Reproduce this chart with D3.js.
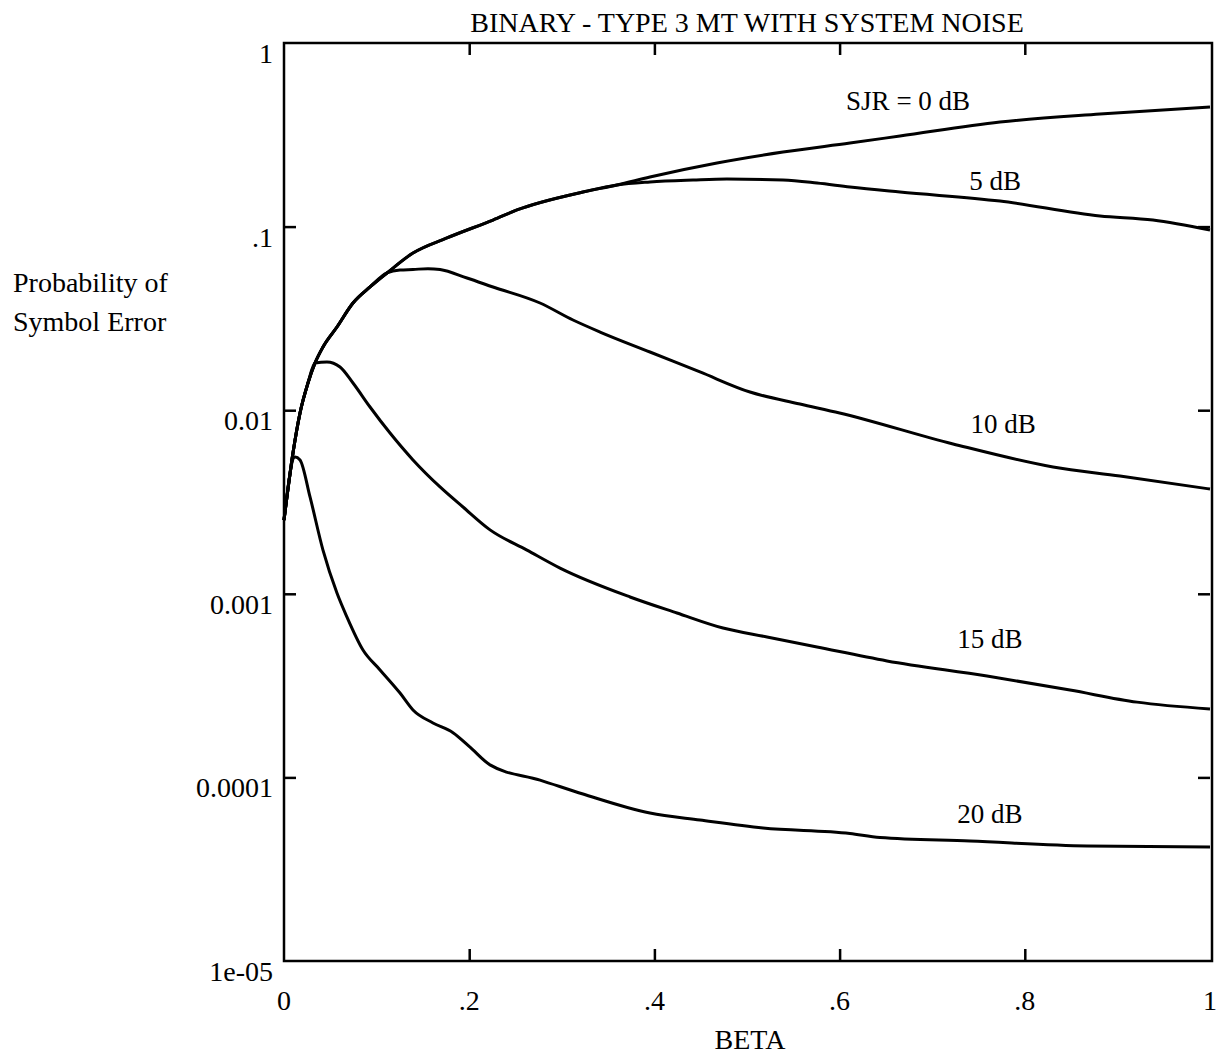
<!DOCTYPE html>
<html>
<head>
<meta charset="utf-8">
<script src="https://cdn.jsdelivr.net/npm/d3@7"></script>
<style>
  body { margin: 0; background: #fff; }
  text { font-family: "Liberation Serif", "DejaVu Serif", serif; fill: #000; }
</style>
</head>
<body>
<svg id="chart" width="1218" height="1058"></svg>
<script>
// values
const betaTicks = [0, 0.2, 0.4, 0.6, 0.8, 1];
const betaTickLabels = ['0', '.2', '.4', '.6', '.8', '1'];
const peTicks = [1, 0.1, 0.01, 0.001, 0.0001, 0.00001];
const peTickLabels = ['1', '.1', '0.01', '0.001', '0.0001', '1e-05'];

const sjrNames = ['SJR = 0 dB', '5 dB', '10 dB', '15 dB', '20 dB'];

const beta0 = [0, 0.0097, 0.0173, 0.0259, 0.0335, 0.0421, 0.0572, 0.0745, 0.0929, 0.1112, 0.1393, 0.176, 0.2257, 0.2516, 0.3229, 0.3596, 0.3952, 0.4676, 0.5389, 0.6112, 0.6652, 0.7732, 0.8812, 1];
const pe0 = [0.00252, 0.00585, 0.00966, 0.01406, 0.01807, 0.02209, 0.02838, 0.03836, 0.0469, 0.05589, 0.07178, 0.0867, 0.1086, 0.1232, 0.1543, 0.1685, 0.1863, 0.222, 0.2548, 0.2853, 0.3114, 0.3713, 0.4105, 0.4481];

const beta5 = [0, 0.0097, 0.0173, 0.0259, 0.0335, 0.0421, 0.0572, 0.0745, 0.0929, 0.1112, 0.1393, 0.176, 0.2257, 0.2516, 0.3229, 0.3596, 0.3952, 0.4417, 0.4784, 0.5389, 0.5756, 0.6112, 0.6652, 0.7732, 0.8812, 0.9384, 1];
const pe5 = [0.00252, 0.00585, 0.00966, 0.01406, 0.01807, 0.02209, 0.02838, 0.03836, 0.0469, 0.05589, 0.07178, 0.0867, 0.1086, 0.1232, 0.1543, 0.1685, 0.175, 0.1794, 0.1817, 0.1794, 0.1727, 0.1643, 0.1543, 0.1378, 0.1142, 0.1086, 0.0958];

const beta10 = [0, 0.0097, 0.0173, 0.0259, 0.0335, 0.0421, 0.0572, 0.0745, 0.0929, 0.1112, 0.1253, 0.1393, 0.1555, 0.1685, 0.1976, 0.2257, 0.2765, 0.3121, 0.3413, 0.3952, 0.4492, 0.5032, 0.5572, 0.6, 0.7225, 0.8305, 0.9028, 1];
const pe10 = [0.00252, 0.00585, 0.00966, 0.01406, 0.01807, 0.02209, 0.02838, 0.03836, 0.0469, 0.05589, 0.05802, 0.0584, 0.059, 0.0584, 0.05248, 0.0469, 0.03836, 0.03099, 0.02666, 0.02075, 0.01615, 0.01256, 0.01081, 0.00966, 0.00655, 0.00491, 0.00438, 0.00372];

const beta15 = [0, 0.0097, 0.0173, 0.0259, 0.0335, 0.0464, 0.0605, 0.0745, 0.0929, 0.1145, 0.1393, 0.1685, 0.1933, 0.2225, 0.2624, 0.2981, 0.3737, 0.4244, 0.4741, 0.5216, 0.5756, 0.6512, 0.7592, 0.8488, 0.9212, 1];
const pe15 = [0.00252, 0.00585, 0.00966, 0.01406, 0.01807, 0.0183, 0.01719, 0.01406, 0.01041, 0.00751, 0.00536, 0.00382, 0.00297, 0.00223, 0.00173, 0.00138, 0.000961, 0.000786, 0.000651, 0.000582, 0.000513, 0.000431, 0.000357, 0.000299, 0.000257, 0.000236];

const beta20 = [0, 0.0119, 0.0173, 0.0281, 0.0421, 0.0572, 0.068, 0.0853, 0.1037, 0.1253, 0.1393, 0.1609, 0.1825, 0.2009, 0.2225, 0.2765, 0.3229, 0.3952, 0.4492, 0.5173, 0.6112, 0.6436, 0.7408, 0.8672, 1];
const pe20 = [0.00252, 0.00556, 0.00536, 0.00337, 0.00173, 0.00101, 0.000747, 0.000494, 0.000385, 0.000288, 0.000233, 0.000198, 0.000175, 0.000146, 0.000117, 9.67e-5, 8.12e-5, 6.4e-5, 5.86e-5, 5.3e-5, 4.95e-5, 4.7e-5, 4.5e-5, 4.23e-5, 4.18e-5];

// where each curve name sits, in data units (beta, Pe)
const labelBeta = [0.674, 0.768, 0.7765, 0.7624, 0.7624];
const labelPe = [0.4315, 0.1582, 0.00751, 0.000507, 5.64e-5];

const series = [[beta0, pe0], [beta5, pe5], [beta10, pe10], [beta15, pe15], [beta20, pe20]];

const plotLeft = 284, plotRight = 1210, plotTop = 43, plotBottom = 961;

const x = d3.scaleLinear().domain([0, 1]).range([plotLeft, plotRight]);
const y = d3.scaleLog().domain([1e-5, 1]).range([plotBottom, plotTop]);

const svg = d3.select('#chart');

svg.append('rect')
    .attr('width', 1218).attr('height', 1058)
    .attr('fill', '#fff');

// inward ticks on all four sides
const inner = [0.2, 0.4, 0.6, 0.8];
const innerY = [0.1, 0.01, 0.001, 0.0001];
const tickLen = 12;

svg.append('g')
    .attr('transform', `translate(0,${plotBottom})`)
    .call(d3.axisBottom(x).tickValues(inner).tickSize(-tickLen).tickFormat(''));
svg.append('g')
    .attr('transform', `translate(0,${plotTop})`)
    .call(d3.axisTop(x).tickValues(inner).tickSize(-tickLen).tickFormat(''));
svg.append('g')
    .attr('transform', `translate(${plotLeft},0)`)
    .call(d3.axisLeft(y).tickValues(innerY).tickSize(-tickLen).tickFormat(''));
svg.append('g')
    .attr('transform', `translate(${plotRight},0)`)
    .call(d3.axisRight(y).tickValues(innerY).tickSize(-tickLen).tickFormat(''));

svg.selectAll('.domain').remove();
svg.selectAll('.tick line').attr('stroke', '#000').attr('stroke-width', 2.5);

// frame
svg.append('rect')
    .attr('x', plotLeft).attr('y', plotTop)
    .attr('width', plotRight - plotLeft + 2).attr('height', plotBottom - plotTop)
    .attr('fill', 'none')
    .attr('stroke', '#000')
    .attr('stroke-width', 2.5);

// tick labels
svg.append('g').selectAll('text')
    .data(betaTicks)
    .join('text')
        .attr('x', d => x(d))
        .attr('y', 1010)
        .attr('text-anchor', 'middle')
        .style('font-size', '28px')
        .text((d, i) => betaTickLabels[i]);

svg.append('g').selectAll('text')
    .data(peTicks)
    .join('text')
        .attr('x', 273)
        .attr('y', d => y(d) + 20)
        .attr('text-anchor', 'end')
        .style('font-size', '28px')
        .text((d, i) => peTickLabels[i]);

// curves
const line = d3.line()
    .x(d => x(d[0]))
    .y(d => y(d[1]))
    .curve(d3.curveMonotoneX);

svg.append('g').selectAll('path')
    .data(series.map(s => s[0].map((b, i) => [b, s[1][i]])))
    .join('path')
        .attr('d', line)
        .attr('fill', 'none')
        .attr('stroke', '#000')
        .attr('stroke-width', 3)
        .attr('stroke-linejoin', 'round');

svg.append('g').selectAll('text')
    .data(sjrNames)
    .join('text')
        .attr('x', (d, i) => x(labelBeta[i]))
        .attr('y', (d, i) => y(labelPe[i]))
        .attr('text-anchor', 'middle')
        .style('font-size', '27px')
        .text(d => d);

// titles
svg.append('text')
    .attr('x', 747).attr('y', 32)
    .attr('text-anchor', 'middle')
    .style('font-size', '28px')
    .text('BINARY - TYPE 3 MT WITH SYSTEM NOISE');

svg.append('text')
    .attr('x', 750).attr('y', 1049)
    .attr('text-anchor', 'middle')
    .style('font-size', '28px')
    .text('BETA');

svg.append('text')
    .attr('x', 13).attr('y', 292)
    .style('font-size', '28px')
    .text('Probability of');
svg.append('text')
    .attr('x', 13).attr('y', 331)
    .style('font-size', '28px')
    .text('Symbol Error');
</script>
</body>
</html>
